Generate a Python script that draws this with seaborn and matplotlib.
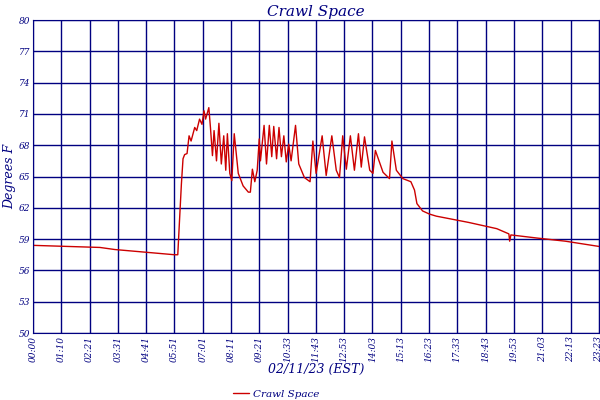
import matplotlib
matplotlib.use('Agg')
import matplotlib.pyplot as plt
import seaborn as sns
import pandas as pd

# minutes after midnight, degrees F
minutes = [0, 166, 203, 351, 359, 362, 368, 372, 376, 382, 387, 392, 401, 406, 413, 419, 424, 428,
           436, 440, 445, 449, 455, 461, 467, 473, 478, 482, 488, 493, 499, 509, 521, 534, 539,
           544, 550, 556, 561, 564, 573, 579, 586, 592, 597, 604, 610, 616, 622, 628, 634, 640,
           651, 659, 673, 687, 694, 702, 717, 727, 741, 752, 760, 768, 777, 787, 797, 807, 814,
           822, 835, 843, 849, 868, 884, 890, 901, 917, 937, 946, 952, 966, 983, 1000, 1080,
           1150, 1180, 1182, 1185, 1250, 1320, 1403]
temps = [58.4, 58.2, 58.0, 57.5, 57.5, 59.8, 64.3, 66.7, 67.1, 67.2, 68.9, 68.4, 69.7, 69.4, 70.5,
         70.0, 71.3, 70.5, 71.6, 69.7, 67.0, 69.4, 66.5, 70.1, 66.2, 68.9, 65.6, 69.1, 65.3, 64.6,
         69.1, 65.3, 64.1, 63.5, 63.5, 65.7, 64.5, 65.6, 68.6, 66.5, 69.9, 66.2, 69.9, 66.9, 69.8,
         66.7, 69.7, 66.9, 68.9, 66.4, 68.1, 66.5, 69.9, 66.2, 64.9, 64.5, 68.4, 65.3, 68.9, 65.1,
         68.9, 65.6, 64.9, 68.9, 65.7, 68.9, 65.6, 69.1, 65.9, 68.8, 65.6, 65.3, 67.5, 65.4, 64.8,
         68.4, 65.6, 64.8, 64.5, 63.7, 62.4, 61.7, 61.4, 61.2, 60.6, 60.0, 59.5, 58.8, 59.4, 59.1,
         58.8, 58.3]
tick_labels = ['00:00', '01:10', '02:21', '03:31', '04:41', '05:51', '07:01', '08:11', '09:21',
               '10:33', '11:43', '12:53', '14:03', '15:13', '16:23', '17:33', '18:43', '19:53',
               '21:03', '22:13', '23:23']
y_ticks = [50, 53, 56, 59, 62, 65, 68, 71, 74, 77, 80]

navy = '#000080'
red = '#cc0000'
df = pd.DataFrame({'t': minutes, 'temp': temps})

sns.set_style('white')
plt.rcParams['font.family'] = ['DejaVu Serif']
fig = plt.figure(figsize=(6, 4), dpi=100)
ax = fig.add_axes([0.055, 0.1675, 0.943, 0.7825])
sns.lineplot(data=df, x='t', y='temp', color=red, linewidth=1, ax=ax)

step = 1403 / 20
ax.set_xticks([i * step for i in range(21)])
ax.set_xticklabels(tick_labels, rotation=90, fontsize=6.5, color=navy, style='italic')
ax.set_yticks(y_ticks)
ax.set_yticklabels(y_ticks, fontsize=6.5, color=navy, style='italic')
ax.set_xlim(0, 1403)
ax.set_ylim(50, 80)
ax.grid(True, color=navy, linewidth=1)
ax.tick_params(length=0, pad=2)
for s in ax.spines.values():
    s.set_color(navy)

ax.set_title('Crawl Space', color=navy, style='italic', fontsize=11, pad=3)
ax.set_ylabel('Degrees F', color=navy, style='italic', fontsize=9, labelpad=2)
ax.set_xlabel('02/11/23 (EST)', color=navy, style='italic', fontsize=9, labelpad=1)
leg = ax.legend(ax.lines[:1], ['Crawl Space'], loc='upper center', bbox_to_anchor=(0.43, -0.165),
                frameon=False, fontsize=7.5, handlelength=1.5, borderpad=0, handletextpad=0.4)
for t in leg.get_texts():
    t.set_color(navy)
    t.set_style('italic')

fig.savefig('out.png', dpi=100)
